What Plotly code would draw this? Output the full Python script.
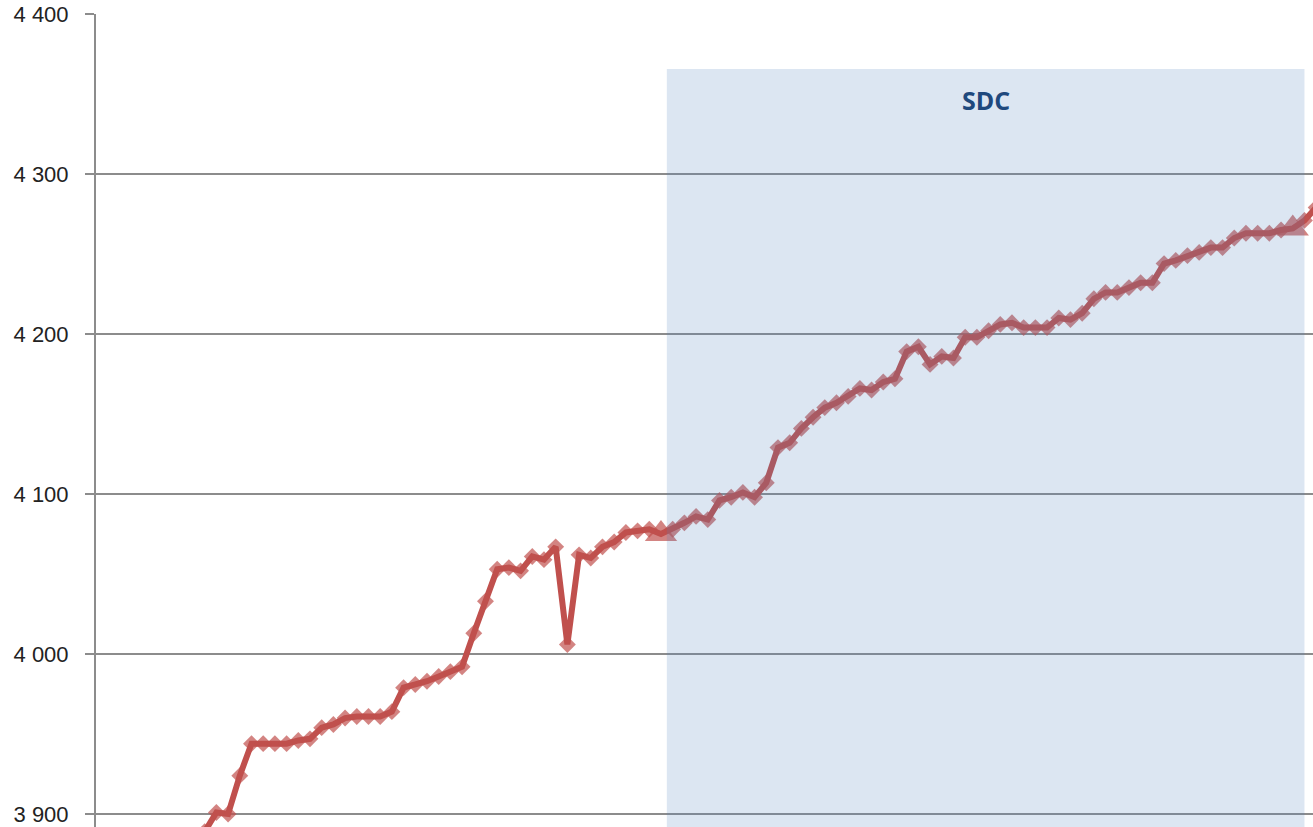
import plotly.graph_objects as go

# Period index (one step per observation)
periods = list(range(-2, 96))

# Series values (index -2 .. 95)
values = [
    3860, 3875,
    3889, 3901, 3900, 3924, 3944, 3944, 3944, 3944, 3946, 3947,
    3954, 3956, 3960, 3961, 3961, 3961, 3964, 3979, 3981, 3983,
    3986, 3989, 3992, 4013, 4033, 4053, 4054, 4052, 4061, 4059,
    4067, 4006, 4062, 4060, 4067, 4070, 4076, 4077, 4078, 4075,
    4078, 4082, 4086, 4084, 4096, 4098, 4101, 4098, 4107, 4129,
    4132, 4141, 4148, 4154, 4157, 4161, 4166, 4165, 4170, 4172,
    4189, 4192, 4181, 4186, 4185, 4198, 4198, 4202, 4206, 4207,
    4204, 4204, 4204, 4210, 4209, 4213, 4222, 4226, 4226, 4229,
    4232, 4232, 4244, 4246, 4249, 4251, 4254, 4254, 4260, 4263,
    4263, 4263, 4265, 4266, 4271, 4279,
]

# Points drawn with a triangle marker
triangle_periods = [39, 93]

# SDC period bounds
sdc_start, sdc_end = 39.5, 94.0
sdc_label = "SDC"

# Y axis ticks
tick_values = [3900, 4000, 4100, 4200, 4300, 4400]
tick_labels = ["3 900", "4 000", "4 100", "4 200", "4 300", "4 400"]

line_color = "#C0504D"
grid_color = "#8C8C8C"

symbols = ["triangle-up" if p in triangle_periods else "diamond" for p in periods]
sizes = [28 if p in triangle_periods else 13 for p in periods]

fig = go.Figure()
fig.add_trace(go.Scatter(
    x=periods, y=values, mode="lines+markers",
    line=dict(color=line_color, width=6),
    marker=dict(symbol=symbols, size=sizes, color=line_color, line=dict(width=0)),
    showlegend=False, hoverinfo="skip",
))

fig.add_shape(type="rect", xref="x", yref="y",
              x0=sdc_start, x1=sdc_end, y0=3800, y1=4365.6,
              fillcolor="rgba(79,129,189,0.2)", line=dict(width=0), layer="above")

fig.add_annotation(x=(sdc_start + sdc_end) / 2, y=4346, xref="x", yref="y",
                   text=f"<b>{sdc_label}</b>", showarrow=False,
                   font=dict(family="Open Sans", size=25, color="#1F497D"))

fig.update_layout(
    width=1313, height=827,
    margin=dict(l=96, r=0, t=14, b=0, pad=0, autoexpand=False),
    paper_bgcolor="white", plot_bgcolor="white",
    font=dict(family="Liberation Sans", size=22, color="#222222"),
    xaxis=dict(range=[-9.29, 94.73], showgrid=False, zeroline=False,
               showticklabels=False, showline=False, ticks="", automargin=False),
    yaxis=dict(range=[3891.9, 4400], tickvals=tick_values, ticktext=tick_labels,
               showgrid=True, gridcolor=grid_color, gridwidth=2,
               zeroline=False, showline=True, linecolor=grid_color, linewidth=2,
               ticks="outside", ticklen=9, tickcolor=grid_color, tickwidth=2,
               ticklabelstandoff=12, ticklabeloverflow="allow", automargin=False),
)

# Remove the default page margin so the figure fills the window exactly
fig.write_html("out.html",
               config={"displayModeBar": False},
               post_script="document.body.style.margin='0px';document.body.style.overflow='hidden';")
